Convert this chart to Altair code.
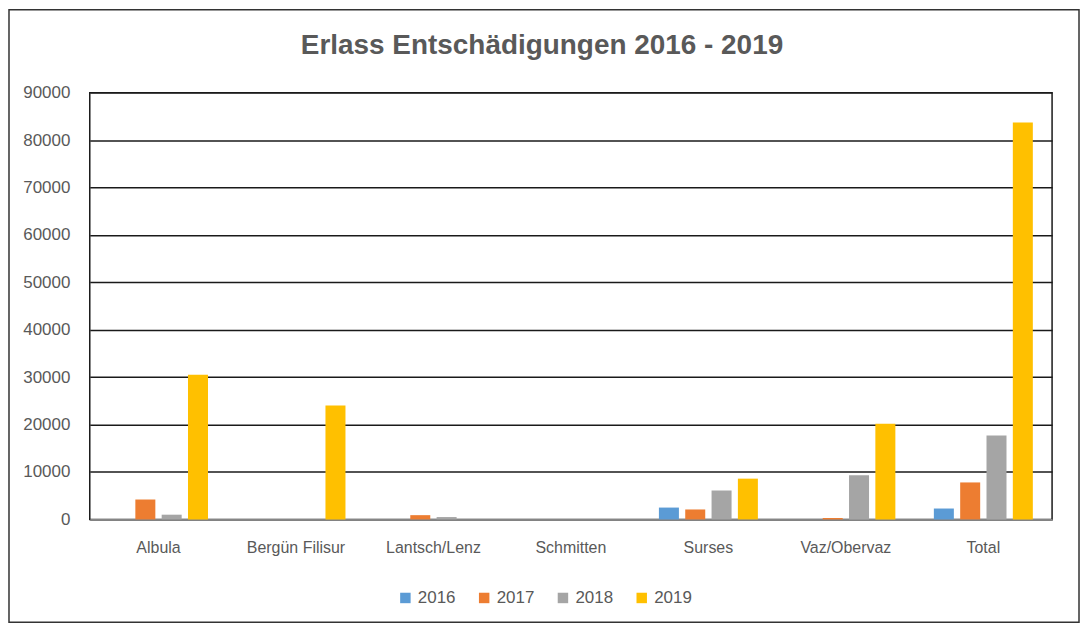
import altair as alt
import pandas as pd

categories = ["Albula", "Bergün Filisur", "Lantsch/Lenz", "Schmitten", "Surses", "Vaz/Obervaz", "Total"]
years = ["2016", "2017", "2018", "2019"]
v2016 = [0, 0, 0, 0, 2500, 0, 2300]
v2017 = [4200, 0, 900, 0, 2100, 300, 7800]
v2018 = [1000, 0, 500, 0, 6100, 9300, 17700]
v2019 = [30500, 24000, 0, 0, 8600, 20200, 83700]
colors = ["#5B9BD5", "#ED7D31", "#A5A5A5", "#FFC000"]
title_text = "Erlass Entschädigungen 2016 - 2019"

rows = []
for series, yr in zip([v2016, v2017, v2018, v2019], years):
    for c, v in zip(categories, series):
        rows.append({"Gemeinde": c, "Jahr": yr, "Wert": v})
df = pd.DataFrame(rows)

W, H = 965, 428
FONT = "Liberation Sans"
GRAY = "#595959"

bars = alt.Chart(df).mark_bar().encode(
    x=alt.X("Gemeinde:N", sort=categories, title=None,
            scale=alt.Scale(paddingInner=0.28, paddingOuter=0.14),
            axis=alt.Axis(labelAngle=0, labelFontSize=16, labelColor=GRAY, labelFont=FONT,
                          ticks=False, domain=True, domainColor="#d9d9d9", labelPadding=20)),
    xOffset=alt.XOffset("Jahr:N", sort=years, scale=alt.Scale(paddingInner=0.24)),
    y=alt.Y("Wert:Q", title=None,
            scale=alt.Scale(domain=[0, 90000], nice=False),
            axis=alt.Axis(values=list(range(0, 90001, 10000)), format="d",
                          labelFontSize=17, labelColor=GRAY, labelFont=FONT,
                          ticks=False, domain=False, labelPadding=20,
                          grid=True, gridColor="#1a1a1a", gridWidth=1.5)),
    color=alt.Color("Jahr:N", sort=years, scale=alt.Scale(domain=years, range=colors),
                    legend=alt.Legend(title=None, orient="none", legendX=308, legendY=498,
                                      direction="horizontal", symbolType="square",
                                      symbolSize=110, symbolStrokeWidth=0,
                                      labelFontSize=17, labelColor=GRAY, labelFont=FONT,
                                      columnPadding=20, labelOffset=4)),
)

title = alt.Chart(pd.DataFrame({"t": [title_text]})).mark_text(
    font=FONT, fontSize=28, fontWeight="bold", color=GRAY, align="center", baseline="middle"
).encode(text="t:N", x=alt.value(W / 2 - 29), y=alt.value(-47))

frame = alt.Chart(pd.DataFrame({"a": [0]})).mark_rect(
    fill=None, stroke="#333333", strokeWidth=1.5
).encode(x=alt.value(-81), x2=alt.value(W + 27), y=alt.value(-83), y2=alt.value(H + 103))

chart = alt.layer(bars, title, frame).properties(
    width=W, height=H,
    autosize=alt.AutoSizeParams(type="none"),
    padding={"left": 82, "top": 84, "right": 28, "bottom": 104},
).configure_view(stroke="#1a1a1a", strokeWidth=1.5)

chart.save("out.html", embed_options={"renderer": "svg", "actions": False})
